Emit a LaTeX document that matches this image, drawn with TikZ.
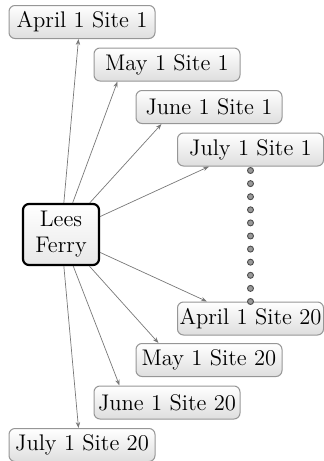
\documentclass[tikz,border=0pt]{standalone}
\usetikzlibrary{calc,arrows.meta}
\definecolor{boxline}{RGB}{150,150,150}
\definecolor{boxbot}{RGB}{222,222,222}
\definecolor{arrline}{RGB}{120,120,120}
\begin{document}
\begin{tikzpicture}[x=0.5pt,y=-0.5pt,
  site/.style={draw=boxline, line width=0.5pt, rounded corners=3pt,
    top color=white, bottom color=boxbot, minimum width=73pt, minimum height=16.5pt,
    inner sep=0pt, font=\fontsize{11.3}{12}\selectfont},
  hub/.style={draw=black, line width=1.1pt, rounded corners=3pt,
    top color=white, bottom color=boxbot!70, minimum width=38pt, minimum height=30.5pt,
    inner sep=0pt, align=center, font=\fontsize{11.3}{13}\selectfont},
  arr/.style={draw=arrline, line width=0.35pt, -{Stealth[length=3pt,width=2.2pt]}},
  dot/.style={circle, draw=black!70, fill=black!40, line width=0.45pt, minimum size=3pt, inner sep=0pt}]
\useasboundingbox (0,0) rectangle (324,461);
\node[site] (A1) at (82,22) {April 1 Site 1};
\node[site] (M1) at (167,64.5) {May 1 Site 1};
\node[site] (Jn1) at (209,107) {June 1 Site 1};
\node[site] (Jl1) at (250.5,149.5) {July 1 Site 1};
\node[hub] (LF) at (61,234.5) {Lees\\Ferry};
\node[site] (A20) at (250.5,318.5) {April 1 Site 20};
\node[site] (M20) at (209,360) {May 1 Site 20};
\node[site] (Jn20) at (167,402.5) {June 1 Site 20};
\node[site] (Jl20) at (82,445) {July 1 Site 20};
\coordinate (tA1) at ($(A1.south west)+(70,0)$);
\coordinate (tM1) at ($(M1.south west)+(24,0)$);
\coordinate (tJn1) at ($(Jn1.south west)+(26,0)$);
\coordinate (tJl1) at ($(Jl1.south west)+(32,0)$);
\coordinate (tA20) at ($(A20.north west)+(30,0)$);
\coordinate (tM20) at ($(M20.north west)+(23,0)$);
\coordinate (tJn20) at ($(Jn20.north west)+(26,0)$);
\coordinate (tJl20) at ($(Jl20.north west)+(70,0)$);
\foreach \t in {tA1,tM1,tJn1,tJl1,tA20,tM20,tJn20,tJl20}
  \draw[arr] (LF) -- (\t);
\coordinate (dtop) at ($(Jl1.south)+(0,4)$);
\foreach \i in {0,...,10}
  \node[dot] (d\i) at ($(dtop)!\i/10!(A20.north)$) {};
\end{tikzpicture}
\end{document}
